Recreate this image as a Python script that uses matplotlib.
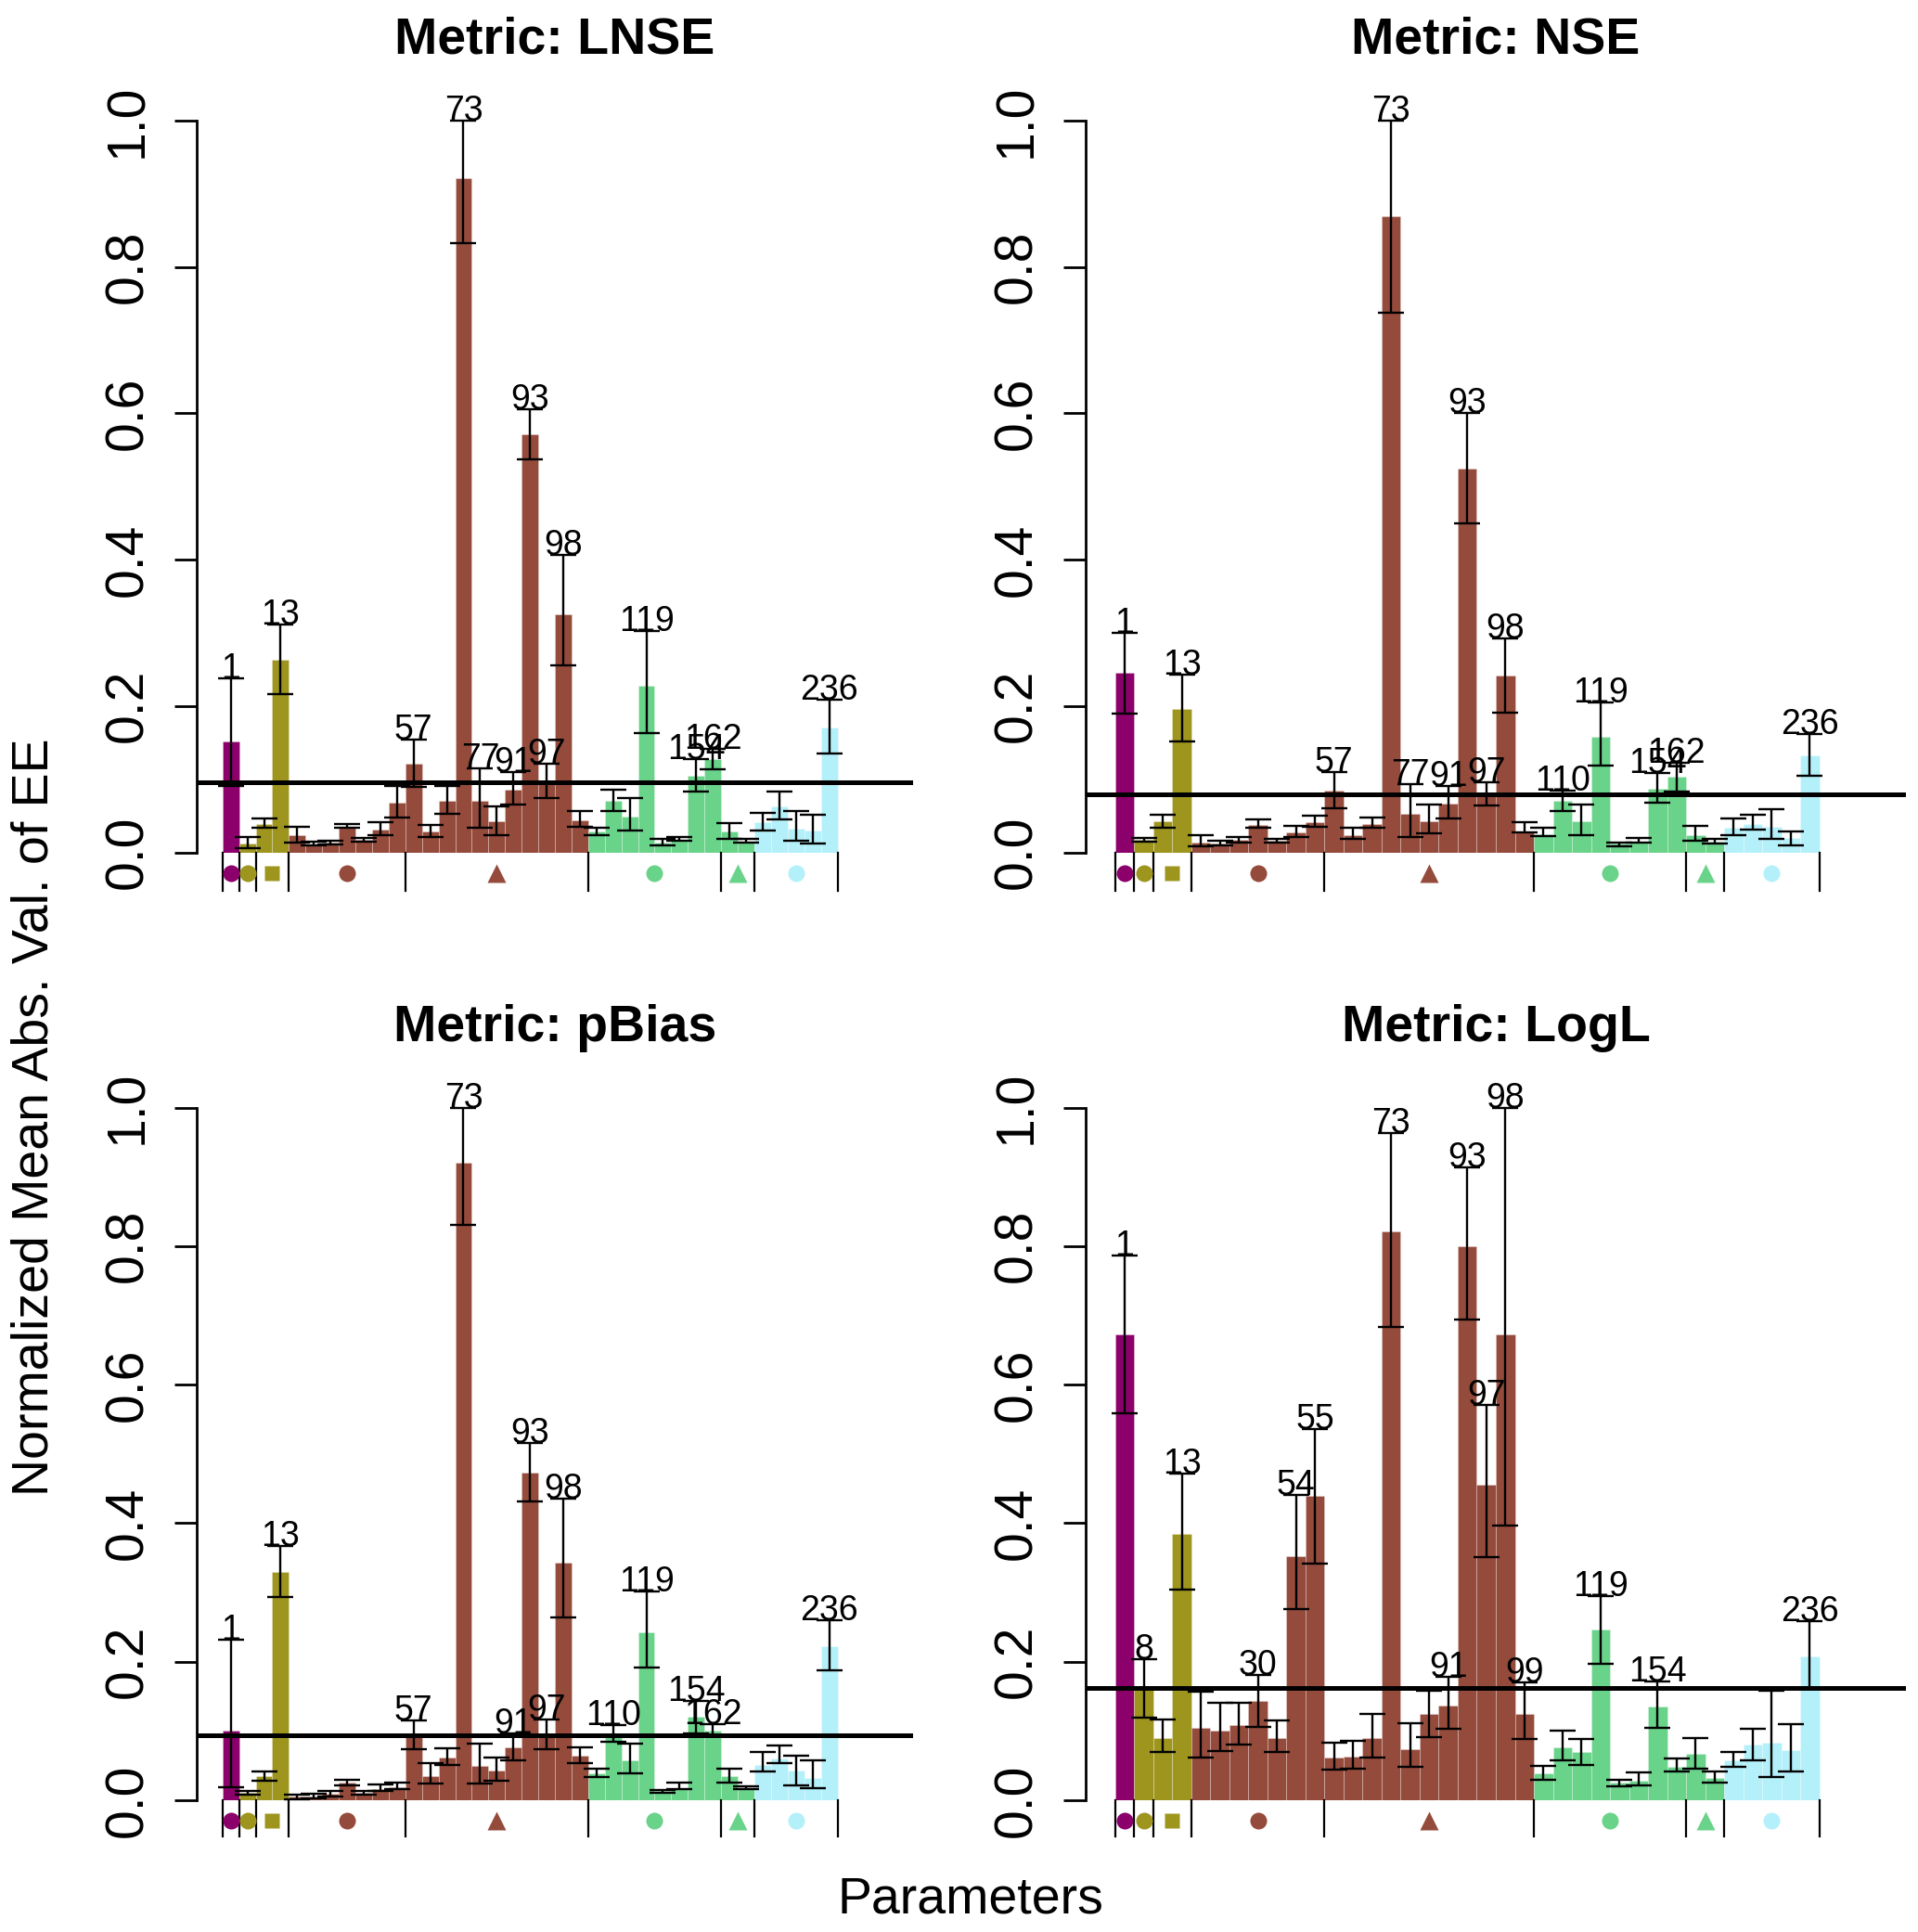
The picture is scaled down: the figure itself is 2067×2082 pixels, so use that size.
import numpy as np
import matplotlib
matplotlib.use("Agg")
import matplotlib.pyplot as plt

plt.rcParams['font.family'] = ['Liberation Sans', 'DejaVu Sans']

W, H = 2067, 2082

# parameter ids shown above the bars (blank = never labelled)
param_ids = ['1', '8', '', '13', '', '', '', '30', '', '54', '55', '57', '', '', '73', '77',
             '', '91', '93', '97', '98', '99', '', '110', '', '119', '', '', '154', '162',
             '', '', '', '', '', '', '236']

group_sizes = [1, 1, 2, 7, 11, 8, 2, 5]
group_colors = ['#8B006B', '#9D951E', '#9D951E', '#954B3C', '#954B3C', '#6AD38A', '#6AD38A', '#B4F0FA']
group_markers = ['o', 'o', 's', 'o', '^', 'o', '^', 'o']

metrics = ['LNSE', 'NSE', 'pBias', 'LogL']

lnse_val = [0.151, 0.012, 0.039, 0.263, 0.023, 0.011, 0.013, 0.035, 0.017, 0.031, 0.068, 0.121, 0.028,
            0.070, 0.921, 0.070, 0.042, 0.086, 0.571, 0.098, 0.325, 0.044, 0.029, 0.070, 0.049, 0.228,
            0.013, 0.017, 0.104, 0.128, 0.028, 0.015, 0.041, 0.063, 0.032, 0.030, 0.170]
lnse_lo = [0.091, 0.006, 0.033, 0.216, 0.013, 0.010, 0.011, 0.033, 0.014, 0.024, 0.048, 0.090, 0.021,
           0.052, 0.832, 0.033, 0.024, 0.065, 0.537, 0.074, 0.255, 0.035, 0.024, 0.057, 0.030, 0.163,
           0.009, 0.016, 0.083, 0.114, 0.019, 0.013, 0.030, 0.045, 0.016, 0.012, 0.135]
lnse_hi = [0.238, 0.021, 0.046, 0.311, 0.035, 0.014, 0.016, 0.039, 0.020, 0.041, 0.091, 0.154, 0.037,
           0.091, 1.000, 0.115, 0.063, 0.110, 0.606, 0.121, 0.407, 0.056, 0.034, 0.086, 0.074, 0.302,
           0.018, 0.021, 0.127, 0.141, 0.040, 0.019, 0.054, 0.083, 0.057, 0.051, 0.208]

nse_val = [0.245, 0.017, 0.042, 0.196, 0.013, 0.012, 0.017, 0.037, 0.016, 0.027, 0.041, 0.084, 0.024,
           0.039, 0.869, 0.053, 0.042, 0.067, 0.525, 0.080, 0.241, 0.029, 0.025, 0.070, 0.042, 0.158,
           0.012, 0.015, 0.087, 0.103, 0.024, 0.015, 0.034, 0.039, 0.035, 0.020, 0.132]
nse_lo = [0.189, 0.014, 0.034, 0.152, 0.008, 0.009, 0.013, 0.033, 0.013, 0.021, 0.035, 0.060, 0.018,
          0.033, 0.737, 0.021, 0.026, 0.046, 0.449, 0.064, 0.191, 0.027, 0.022, 0.057, 0.023, 0.119,
          0.008, 0.013, 0.068, 0.083, 0.016, 0.012, 0.024, 0.031, 0.019, 0.010, 0.105]
nse_hi = [0.300, 0.020, 0.051, 0.243, 0.024, 0.016, 0.021, 0.045, 0.018, 0.036, 0.050, 0.110, 0.033,
          0.047, 1.000, 0.093, 0.065, 0.091, 0.601, 0.096, 0.292, 0.041, 0.034, 0.084, 0.065, 0.205,
          0.013, 0.020, 0.109, 0.122, 0.036, 0.018, 0.046, 0.051, 0.059, 0.029, 0.162]

pbias_val = [0.101, 0.011, 0.035, 0.330, 0.005, 0.006, 0.009, 0.025, 0.011, 0.016, 0.019, 0.094, 0.035,
             0.062, 0.920, 0.050, 0.043, 0.076, 0.473, 0.096, 0.343, 0.064, 0.039, 0.092, 0.058, 0.243,
             0.013, 0.018, 0.121, 0.101, 0.035, 0.018, 0.051, 0.060, 0.043, 0.032, 0.222]
pbias_lo = [0.019, 0.008, 0.028, 0.294, 0.002, 0.003, 0.006, 0.021, 0.008, 0.013, 0.016, 0.074, 0.024,
            0.051, 0.831, 0.024, 0.028, 0.058, 0.432, 0.074, 0.264, 0.053, 0.033, 0.085, 0.039, 0.191,
            0.011, 0.016, 0.096, 0.092, 0.025, 0.016, 0.041, 0.054, 0.021, 0.018, 0.188]
pbias_hi = [0.232, 0.014, 0.041, 0.367, 0.008, 0.009, 0.014, 0.030, 0.014, 0.023, 0.025, 0.115, 0.053,
            0.075, 1.000, 0.082, 0.061, 0.096, 0.516, 0.117, 0.435, 0.076, 0.045, 0.109, 0.082, 0.301,
            0.015, 0.025, 0.143, 0.110, 0.046, 0.020, 0.069, 0.079, 0.064, 0.057, 0.260]

logl_val = [0.673, 0.160, 0.090, 0.385, 0.104, 0.100, 0.108, 0.143, 0.090, 0.352, 0.439, 0.062, 0.063,
            0.090, 0.821, 0.074, 0.124, 0.137, 0.800, 0.455, 0.672, 0.124, 0.039, 0.077, 0.069, 0.246,
            0.025, 0.028, 0.135, 0.048, 0.067, 0.032, 0.058, 0.081, 0.083, 0.072, 0.207]
logl_lo = [0.559, 0.119, 0.070, 0.304, 0.062, 0.071, 0.081, 0.106, 0.070, 0.276, 0.342, 0.044, 0.046,
           0.062, 0.683, 0.048, 0.091, 0.103, 0.694, 0.351, 0.396, 0.089, 0.030, 0.058, 0.051, 0.197,
           0.020, 0.021, 0.104, 0.042, 0.046, 0.025, 0.048, 0.058, 0.034, 0.041, 0.162]
logl_hi = [0.787, 0.204, 0.117, 0.472, 0.157, 0.141, 0.140, 0.181, 0.115, 0.441, 0.536, 0.083, 0.086,
           0.124, 0.963, 0.111, 0.158, 0.178, 0.914, 0.570, 1.000, 0.170, 0.050, 0.101, 0.089, 0.295,
           0.029, 0.040, 0.171, 0.060, 0.090, 0.041, 0.070, 0.103, 0.158, 0.110, 0.259]

# overall mean of each metric (horizontal line)
mean_lines = [0.096, 0.079, 0.094, 0.162]

panel_data = [(lnse_val, lnse_lo, lnse_hi), (nse_val, nse_lo, nse_hi),
              (pbias_val, pbias_lo, pbias_hi), (logl_val, logl_lo, logl_hi)]

# plot boxes in pixels: left, right, y of 1.0, y of 0.0
boxes = [(212, 984, 130, 918.5), (1170, 2054, 130, 918.5),
         (212, 984, 1193.5, 1940), (1170, 2054, 1193.5, 1940)]

bar_colors = []
for n, c in zip(group_sizes, group_colors):
    bar_colors += [c] * n
edges = np.concatenate([[0], np.cumsum(group_sizes)])
x = np.arange(len(param_ids))

fig = plt.figure(figsize=(W / 100, H / 100), dpi=100)

for k, name in enumerate(metrics):
    l, r, t, b = boxes[k]
    ax = fig.add_axes([l / W, 1 - b / H, (r - l) / W, (b - t) / H])
    vals, lo, hi = [np.array(a) for a in panel_data[k]]

    ax.bar(x, vals, width=1.0, align='edge', color=bar_colors,
           edgecolor=(1, 1, 1, 0.3), linewidth=0.6)
    eb = ax.errorbar(x + 0.5, vals, yerr=[vals - lo, hi - vals], fmt='none', ecolor='black',
                     elinewidth=1.7, capsize=10, capthick=1.7)
    for art in eb.lines[1] + eb.lines[2]:
        art.set_clip_on(False)
    ax.axhline(mean_lines[k], color='black', lw=3.6)

    for i, pid in enumerate(param_ids):
        if pid and hi[i] > mean_lines[k]:
            ax.text(i + 0.5, hi[i], pid, ha='center', va='baseline', fontsize=27)

    # group separators and symbols below the bars
    for e in edges:
        ax.plot([e, e], [0, -0.052], color='black', lw=1.6, clip_on=False)
    for g in range(len(group_sizes)):
        xc = (edges[g] + edges[g + 1]) / 2
        ms = {'o': 13, 's': 12, '^': 15}[group_markers[g]]
        ax.plot(xc, -0.029, marker=group_markers[g], ms=ms, color=group_colors[g],
                mec='none', clip_on=False)

    ax.set_xlim(-1.55, 41.55)
    ax.set_ylim(0, 1)
    ax.set_xticks([])
    ax.set_yticks(np.arange(0, 1.01, 0.2))
    ax.set_yticklabels(['0.0', '0.2', '0.4', '0.6', '0.8', '1.0'])
    ax.tick_params(axis='y', length=17, width=2, labelsize=41, pad=36)
    plt.setp(ax.get_yticklabels(), rotation=90, ha='center', va='center')
    for s in ['top', 'right', 'bottom']:
        ax.spines[s].set_visible(False)
    ax.spines['left'].set_bounds(0, 1)
    ax.spines['left'].set_linewidth(2)
    ax.patch.set_alpha(0)

    fig.text((l + r) / 2 / W, 1 - (t - 72) / H, 'Metric: ' + name, ha='center',
             va='baseline', fontsize=40, fontweight='bold')

fig.text(38 / W, 1 - 1204 / H, 'Normalized Mean Abs. Val. of EE', rotation=90,
         ha='center', va='center', fontsize=40)
fig.text(1046 / W, 1 - 2062 / H, 'Parameters', ha='center', va='baseline', fontsize=40)

fig.savefig('out.png', dpi=100)
